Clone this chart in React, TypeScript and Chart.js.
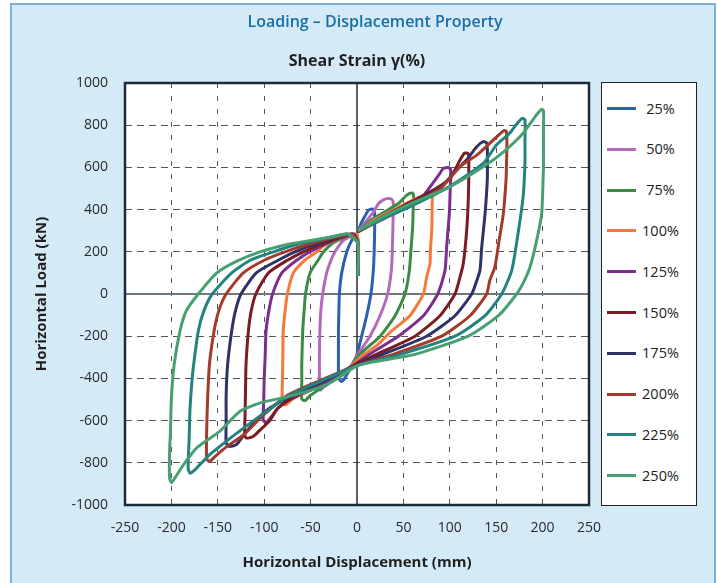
import React, { useEffect, useRef } from 'react';
import { Chart, registerables } from 'chart.js';

Chart.register(...registerables);

const FONT = "'Open Sans', 'Noto Sans', sans-serif";

const strainLabels = ['25%', '50%', '75%', '100%', '125%', '150%', '175%', '200%', '225%', '250%'];
const strainColors = ['#2b5fb4', '#b36abd', '#3b8b46', '#f6793a', '#7b2e8c', '#7b1c20', '#2f3267', '#a33a2a', '#23837e', '#46a072'];

const xTickStep = 50;
const yTickStep = 200;
const xRange = [-250, 250];
const yRange = [-1000, 1000];

const loop25: number[][] = [
  [1, 290], [4, 330], [8, 365], [12, 395], [15, 402], [18, 400], [19, 385],
  [19, 300], [18.5, 200], [17.6, 111], [15, 0], [10.4, -103], [5, -200], [0, -286],
  [-5, -335], [-10, -375], [-14, -405], [-16.5, -415], [-19, -405],
  [-20, -370], [-20, -300], [-20, -175], [-19.5, -80], [-19, 0], [-16.5, 100], [-11, 200], [-5.7, 254], [-2, 275], [0, 280], [1, 240], [1, 85],
];
const loop50: number[][] = [
  [1, 295], [10, 345], [18, 390], [23, 428], [28, 445], [32, 452], [37, 450], [39, 435],
  [39, 380], [38.6, 300], [38, 200], [37, 111], [33, 0], [24.8, -103], [14, -200], [1, -286],
  [-10, -365], [-20, -395], [-30, -420], [-36, -440], [-39, -455], [-41, -448],
  [-40.5, -400], [-40.5, -300], [-40, -175], [-39, -80], [-37, 0], [-32.7, 100], [-28, 160], [-23.7, 200], [-14.7, 254], [-5, 276], [0, 281], [1, 240], [1, 85],
];
const loop75: number[][] = [
  [1, 295], [15, 350], [30, 390], [45, 430], [52, 462], [56, 476], [60, 478], [61, 465],
  [60.5, 400], [60, 320], [58.5, 230], [56.4, 111], [51.7, 0], [41, -103], [25, -200], [3, -286],
  [-10, -365], [-25, -410], [-40, -450], [-50, -480], [-56, -505], [-59.5, -498],
  [-59.5, -420], [-59.5, -330], [-58.5, -175], [-57, -80], [-55.5, 0], [-50.6, 100], [-42, 160], [-36, 200], [-27, 238], [-15, 265], [-4, 281], [0, 282], [1, 240], [1, 85],
];
const loop100: number[][] = [
  [1, 295], [20, 355], [40, 400], [60, 445], [72, 468], [78, 482], [81, 476],
  [81, 420], [80.5, 300], [79, 200], [78.7, 143], [75, 80], [71.5, 0], [57, -103], [37.4, -175], [21, -245], [5, -295],
  [-15, -375], [-35, -425], [-55, -465], [-70, -500], [-77, -525], [-80.5, -518],
  [-80.5, -440], [-80, -330], [-79.5, -175], [-77.5, -80], [-75, 0], [-68.6, 100], [-55, 165], [-45, 195], [-32.7, 238], [-15, 268], [-4, 282], [0, 282], [1, 240], [1, 85],
];
const loop125: number[][] = [
  [1, 295], [25, 360], [50, 415], [70, 460], [80, 515], [88, 563], [93, 595], [98, 600], [101, 590],
  [100.5, 500], [99.5, 381], [98, 300], [96.6, 222], [94.8, 111], [87, 0], [71.5, -103], [44.5, -200], [10, -295],
  [-20, -390], [-45, -445], [-65, -485], [-76, -508], [-85, -540], [-93, -585], [-98, -608], [-101, -598],
  [-100.5, -500], [-100, -400], [-99, -300], [-98, -175], [-95, -80], [-91, 0], [-81, 100], [-65, 160], [-50.6, 200], [-30, 245], [-12, 274], [-3, 284], [1, 240], [1, 85],
];
const loop150: number[][] = [
  [1, 295], [30, 370], [60, 440], [85, 500], [100, 545], [111, 635], [116, 668], [120, 665],
  [120.5, 600], [120, 460], [118.2, 301], [114.5, 143], [111, 80], [105.6, 0], [89.4, -103], [62.5, -200], [21, -286], [0, -330],
  [-30, -400], [-60, -465], [-85, -540], [-94, -600], [-104, -643], [-112, -675], [-119, -683], [-121, -670],
  [-120.5, -550], [-120, -420], [-119.6, -333], [-117, -175], [-114, -80], [-109, 0], [-95.5, 100], [-75, 160], [-57.8, 200], [-35, 242], [-15, 272], [-4, 284], [1, 240], [1, 85],
];
const loop175: number[][] = [
  [1, 295], [30, 365], [60, 430], [90, 505], [107, 587], [118, 635], [129, 698], [136, 722], [140, 715],
  [140.5, 640], [140.4, 540], [138, 381], [134.4, 222], [132.5, 111], [129, 63], [123.6, 0], [105.6, -103], [75, -200], [28, -286], [0, -335],
  [-30, -400], [-60, -460], [-94, -540], [-108, -595], [-119, -651], [-130, -714], [-138, -722], [-141, -705],
  [-141, -600], [-141, -480], [-139.4, -333], [-135, -175], [-131, -80], [-125, 0], [-108.5, 100], [-85, 160], [-66.8, 200], [-40, 245], [-18, 272], [-5, 284], [1, 240], [1, 85],
];
const loop200: number[][] = [
  [1, 295], [30, 360], [60, 425], [90, 500], [111, 603], [129, 658], [143, 714], [158, 774], [161, 770],
  [161.5, 700], [161, 600], [160.6, 540], [157.7, 381], [153, 250], [148.7, 130], [143, 63], [139.7, 0], [121.8, -103], [91.3, -200], [39, -286], [0, -338],
  [-40, -410], [-75, -480], [-104, -587], [-122, -667], [-140, -722], [-151, -762], [-159, -794], [-162, -780],
  [-162, -650], [-161, -500], [-159, -333], [-154, -175], [-149, -80], [-141, 0], [-122.5, 100], [-100, 160], [-77.6, 200], [-45, 245], [-20, 272], [-5, 284], [1, 240], [1, 85],
];
const loop225: number[][] = [
  [1, 300], [30, 360], [60, 420], [100, 510], [136, 619], [150, 705], [164, 760], [172, 805], [178, 833], [181, 825],
  [181, 720], [181, 620], [179, 460], [174, 300], [166.7, 111], [155.9, 0], [138, -103], [105.6, -200], [47, -286], [0, -340],
  [-40, -415], [-72, -478], [-94, -545], [-119, -625], [-140, -695], [-159, -762], [-173, -826], [-180, -849], [-182, -825],
  [-181, -700], [-180, -550], [-178, -420], [-176, -333], [-171, -175], [-165, -80], [-156, 0], [-135, 100], [-115, 160], [-90, 200], [-62, 238], [-30, 268], [-10, 284], [1, 240], [1, 85],
];
const loop250: number[][] = [
  [1, 300], [30, 370], [64, 440], [100, 508], [136, 603], [158, 674], [179, 762], [192, 841], [199, 876], [201, 868],
  [201, 760], [201, 620], [200.5, 540], [199, 381], [193.6, 254], [186.4, 127], [180, 60], [172, 0], [152.3, -103], [120, -200], [62.5, -286], [20, -320], [0, -341],
  [-32.7, -429], [-72, -484], [-104, -516], [-126, -556], [-148, -651], [-173, -730], [-187, -810], [-196, -870], [-200, -895], [-202, -870],
  [-202, -750], [-201, -651], [-200, -492], [-197, -333], [-190.7, -175], [-184, -80], [-171, 0], [-151, 100], [-130, 155], [-104.5, 200], [-75, 235], [-50, 254], [-25, 272], [-10, 285], [1, 240], [1, 85],
];

const loops = [loop25, loop50, loop75, loop100, loop125, loop150, loop175, loop200, loop225, loop250];

const framePlugin = {
  id: 'frame',
  beforeDraw(chart: any) {
    const { ctx, chartArea } = chart;
    const { left, top, right, bottom } = chartArea;
    ctx.save();
    ctx.fillStyle = '#ffffff';
    ctx.fillRect(left, top, right - left, bottom - top);
    ctx.restore();
  },
  beforeDatasetsDraw(chart: any) {
    const { ctx, chartArea, scales } = chart;
    const { left, top, right, bottom } = chartArea;
    const x0 = scales.x.getPixelForValue(0);
    const y0 = scales.y.getPixelForValue(0);
    ctx.save();
    ctx.strokeStyle = '#6f787e';
    ctx.lineWidth = 2;
    ctx.beginPath();
    ctx.moveTo(left, y0);
    ctx.lineTo(right, y0);
    ctx.stroke();
    ctx.strokeStyle = '#1c2b39';
    ctx.lineWidth = 1.5;
    ctx.beginPath();
    ctx.moveTo(x0, top);
    ctx.lineTo(x0, bottom);
    ctx.stroke();
    ctx.restore();
  },
  afterDatasetsDraw(chart: any) {
    const { ctx, chartArea } = chart;
    const { left, top, right, bottom } = chartArea;
    ctx.save();
    ctx.strokeStyle = '#1c2b39';
    ctx.lineWidth = 2.5;
    ctx.strokeRect(left, top, right - left, bottom - top);
    ctx.restore();
  },
};

export default function App() {
  const ref = useRef<HTMLCanvasElement>(null);

  useEffect(() => {
    if (!ref.current) return;
    const datasets = loops.map((loop, i) => ({
      label: strainLabels[i],
      data: loop.map((p) => ({ x: p[0], y: p[1] })),
      showLine: true,
      borderColor: strainColors[i],
      backgroundColor: strainColors[i],
      borderWidth: 3,
      pointRadius: 0,
      tension: 0.2,
      fill: false,
      order: loops.length - i,
    }));
    const tickFont = { family: FONT, size: 14 };
    const titleFont = { family: FONT, size: 15, weight: 'bold' as const };
    const plainTick = (v: any) => String(v);
    const chart = new Chart(ref.current, {
      type: 'scatter',
      data: { datasets },
      options: {
        responsive: false,
        animation: false,
        events: [],
        layout: { padding: { left: 32, right: 0, top: 0, bottom: 0 } },
        plugins: {
          legend: { display: false },
          tooltip: { enabled: false },
          title: {
            display: true,
            text: 'Loading – Displacement Property',
            color: '#1a6ea5',
            font: { family: FONT, size: 16, weight: 600 as any },
            padding: { top: 13, bottom: 0 },
          },
        },
        scales: {
          x: {
            type: 'linear',
            position: 'bottom',
            min: xRange[0],
            max: xRange[1],
            ticks: { stepSize: xTickStep, padding: 15, color: '#2a2a2a', font: tickFont, callback: plainTick },
            grid: {
              drawTicks: false,
              lineWidth: 1,
              color: (c: any) =>
                c.tick && (c.tick.value === 0 || Math.abs(c.tick.value) === 250) ? 'rgba(0,0,0,0)' : '#50565c',
            },
            border: { display: false, dash: [5, 8] },
            title: { display: true, text: 'Horizontal Displacement (mm)', color: '#1f1f1f', font: titleFont, padding: { top: 0, bottom: 11 } },
            afterFit: (s: any) => { s.height = 78; },
          },
          x2: {
            type: 'linear',
            position: 'top',
            min: xRange[0],
            max: xRange[1],
            ticks: { display: false },
            grid: { display: false },
            border: { display: false },
            title: { display: true, text: 'Shear Strain γ(%)', color: '#1f1f1f', font: { family: FONT, size: 16, weight: 'bold' }, padding: { top: 20, bottom: 0 } },
            afterFit: (s: any) => { s.height = 50.8; },
          },
          y: {
            type: 'linear',
            position: 'left',
            min: yRange[0],
            max: yRange[1],
            ticks: { stepSize: yTickStep, padding: 17, color: '#2a2a2a', font: tickFont, callback: plainTick },
            grid: {
              drawTicks: false,
              lineWidth: 1,
              color: (c: any) =>
                c.tick && (c.tick.value === 0 || Math.abs(c.tick.value) === 1000) ? 'rgba(0,0,0,0)' : '#50565c',
            },
            border: { display: false, dash: [7, 5] },
            title: { display: true, text: 'Horizontal Load (kN)', color: '#1f1f1f', font: titleFont, padding: { top: 1, bottom: 0 } },
            afterFit: (s: any) => { s.width = 93; },
          },
          y2: {
            type: 'linear',
            position: 'right',
            ticks: { display: false },
            grid: { display: false },
            border: { display: false },
            afterFit: (s: any) => { s.width = 129; },
          },
        },
      } as any,
      plugins: [framePlugin],
    });
    return () => chart.destroy();
  }, []);

  return (
    <div style={{ position: 'absolute', left: 0, top: 0, width: 718, height: 583, background: '#ffffff', overflow: 'hidden', fontFamily: FONT }}>
      <div
        style={{
          position: 'absolute', left: 10, top: 3, width: 706, height: 620,
          background: '#d4eaf7', border: '2px solid #78b2d9', boxSizing: 'border-box',
        }}
      />
      <canvas ref={ref} width={718} height={583} style={{ position: 'absolute', left: 0, top: 0, width: 718, height: 583 }} />
      <div
        style={{
          position: 'absolute', left: 601, top: 82, width: 96, height: 424,
          background: '#ffffff', border: '1.5px solid #222', boxSizing: 'border-box',
        }}
      >
        {strainLabels.map((lab, i) => {
          const cy = 25.5 + i * 40.8;
          return (
            <div key={lab}>
              <div style={{ position: 'absolute', left: 4.5, top: cy - 1.5, width: 29, height: 3, background: strainColors[i] }} />
              <div
                style={{
                  position: 'absolute', left: 28.5, width: 60, top: cy - 10, height: 20, lineHeight: '20px',
                  textAlign: 'center', fontSize: 14.5, color: '#222', fontFamily: FONT,
                }}
              >
                {lab}
              </div>
            </div>
          );
        })}
      </div>
    </div>
  );
}
